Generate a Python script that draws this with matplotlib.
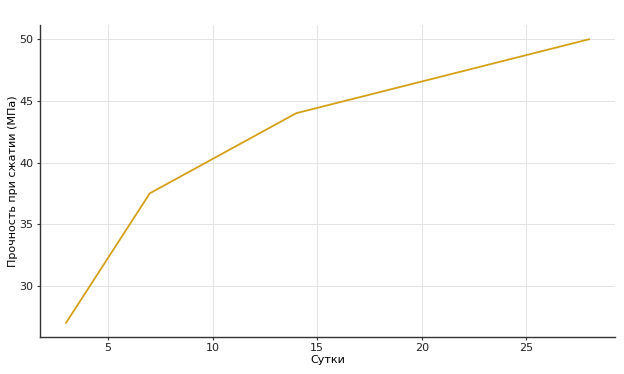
import matplotlib
matplotlib.use("Agg")
import matplotlib.pyplot as plt

# Data
days = [3, 7, 14, 28]
strength = [27, 37.5, 44, 50]

fig = plt.figure(figsize=(6.24, 3.74), dpi=100)
ax = fig.add_axes([0.064, 0.099, 0.922, 0.834])

ax.plot(days, strength, color='#D4A017', linewidth=1.3)

ax.set_xlabel('Сутки', fontsize=8, labelpad=1)
ax.set_ylabel('Прочность при сжатии (МПа)', fontsize=8, labelpad=1)
ax.set_xticks([5, 10, 15, 20, 25])
ax.set_yticks([30, 35, 40, 45, 50])
ax.tick_params(labelsize=8, length=2, width=0.8, pad=2.5, colors='#333333', labelcolor='#222222')

ax.grid(True, color='#e4e4e4', linewidth=0.7, linestyle='-')
ax.spines['top'].set_visible(False)
ax.spines['right'].set_visible(False)
for s in ('left', 'bottom'):
    ax.spines[s].set_color('#333333')
    ax.spines[s].set_linewidth(1.0)

plt.savefig("out.png", dpi=100)
